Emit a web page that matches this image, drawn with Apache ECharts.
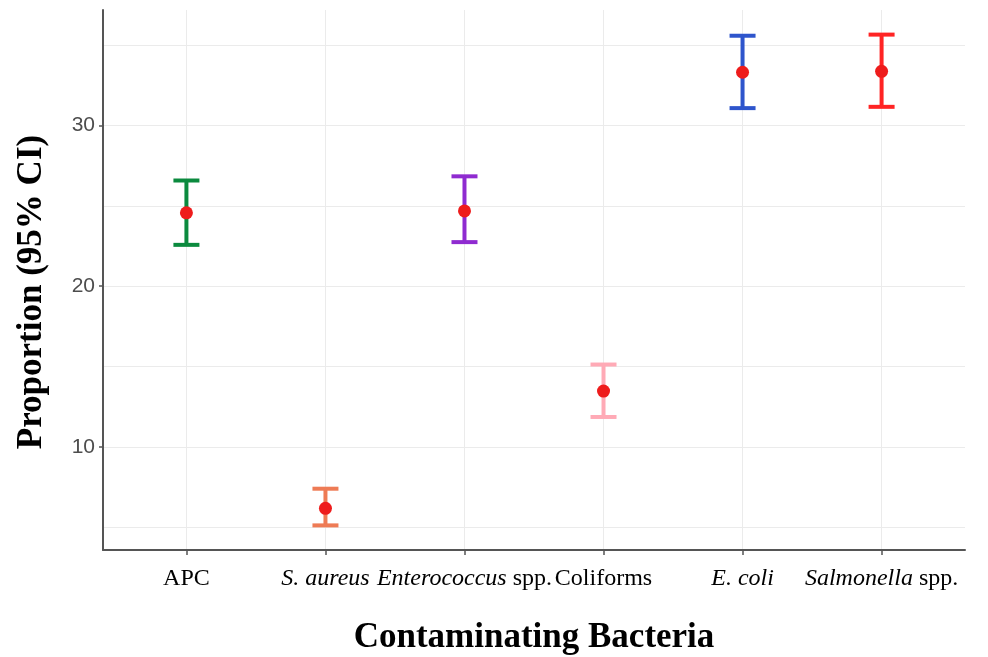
<!DOCTYPE html>
<html>
<head>
<meta charset="utf-8">
<script src="https://cdn.jsdelivr.net/npm/echarts@6/dist/echarts.min.js"></script>
<style>
html,body{margin:0;padding:0;background:#fff;}
#chart{width:988px;height:657px;}
</style>
</head>
<body>
<div id="chart"></div>
<script>
// labels use rich text so the genus / species names come out italic
var catLabels=['APC','{i|S. aureus}','{i|Enterococcus} spp.','Coliforms','{i|E. coli}','{i|Salmonella} spp.'];
var proportion=[24.56,6.19,24.68,13.48,33.30,33.36];
var lower=[22.57,5.13,22.74,11.87,31.07,31.15];
var upper=[26.57,7.41,26.83,15.13,35.57,35.64];
var barColors=['#0b8a3e','#ee7b55','#8f2bd0','#ffaab6','#2e55cc','#ff2424'];
var yLabelTicks=[10,20,30];
var yGridTicks=[5,10,15,20,25,30,35];
var catIndex=[0,1,2,3,4,5];

var myChart=echarts.init(document.getElementById('chart'));

var barData=[],pointData=[];
for(var i=0;i<catLabels.length;i++){
  barData.push({value:[i,lower[i],upper[i]],itemStyle:{color:barColors[i]}});
  pointData.push([i,proportion[i]]);
}

function renderErrorBar(params,api){
  var x=api.value(0);
  var lo=api.coord([x,api.value(1)]);
  var hi=api.coord([x,api.value(2)]);
  var half=13;
  var style={stroke:barColors[params.dataIndex],lineWidth:4};
  return {type:'group',children:[
    {type:'line',shape:{x1:lo[0],y1:lo[1],x2:hi[0],y2:hi[1]},style:style},
    {type:'line',shape:{x1:lo[0]-half,y1:lo[1],x2:lo[0]+half,y2:lo[1]},style:style},
    {type:'line',shape:{x1:hi[0]-half,y1:hi[1],x2:hi[0]+half,y2:hi[1]},style:style}
  ]};
}

var option={
  animation:false,
  backgroundColor:'#fff',
  grid:{left:103,right:23,top:10,bottom:107,outerBoundsMode:'none',containLabel:false},
  xAxis:{
    type:'value',min:-0.6,max:5.6,
    name:'Contaminating Bacteria',nameLocation:'middle',nameGap:70,
    nameTextStyle:{fontFamily:'Liberation Serif',fontWeight:'bold',fontSize:35,color:'#000'},
    axisLine:{show:true,onZero:false,lineStyle:{color:'#555',width:2}},
    axisTick:{show:true,length:5,customValues:catIndex,lineStyle:{color:'#555',width:1.5}},
    splitLine:{show:true,lineStyle:{color:'#ebebeb',width:1}},
    axisLabel:{
      customValues:catIndex,margin:17,
      fontFamily:'Liberation Serif',fontSize:24,color:'#000',
      formatter:function(v){return catLabels[Math.round(v)];},
      rich:{i:{fontFamily:'Liberation Serif',fontSize:24,color:'#000',fontStyle:'italic'}}
    }
  },
  yAxis:[{
    type:'value',min:3.6,max:37.17,
    name:'Proportion (95% CI)',nameLocation:'middle',nameGap:54,
    nameTextStyle:{fontFamily:'Liberation Serif',fontWeight:'bold',fontSize:35,color:'#000',padding:[0,24,0,0]},
    axisLine:{show:true,onZero:false,lineStyle:{color:'#555',width:2}},
    axisTick:{show:false,customValues:yGridTicks},
    splitLine:{show:true,lineStyle:{color:'#ebebeb',width:1}},
    axisLabel:{customValues:yLabelTicks,margin:8,fontFamily:'Liberation Sans',fontSize:21,color:'#4d4d4d'}
  },{
    type:'value',min:3.6,max:37.17,position:'left',
    axisLine:{show:false,onZero:false},
    axisTick:{show:true,length:4,customValues:yLabelTicks,lineStyle:{color:'#555',width:1.5}},
    axisLabel:{show:false},
    splitLine:{show:false}
  }],
  series:[{
    type:'custom',
    renderItem:renderErrorBar,
    encode:{x:0,y:[1,2]},
    data:barData,
    z:2
  },{
    type:'scatter',
    symbolSize:13,
    itemStyle:{color:'#ee1c1c',opacity:1},
    data:pointData,
    z:3
  }]
};
myChart.setOption(option);
</script>
</body>
</html>
